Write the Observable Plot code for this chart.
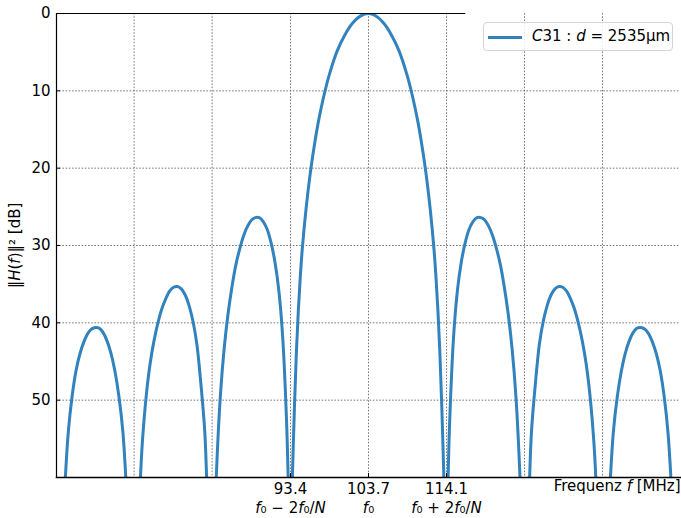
<!DOCTYPE html>
<html><head><meta charset="utf-8">
<script src="https://cdn.jsdelivr.net/npm/d3@7"></script>
<script src="https://cdn.jsdelivr.net/npm/@observablehq/plot@0.6"></script>
<style>
body{margin:0;background:#fff;}
#wrap{position:relative;width:681px;height:518px;font-family:"DejaVu Sans",sans-serif;}
#legend{position:absolute;left:483px;top:22px;width:190px;height:29px;border:1px solid #d4d4d4;border-radius:4px;background:rgba(255,255,255,0.85);box-sizing:border-box;font-size:15px;color:#000;}
#legend .sw{position:absolute;left:4px;top:13px;width:34px;height:3px;}
#legend .tx{position:absolute;left:48px;top:4px;white-space:nowrap;}
</style></head><body><div id="wrap"></div>
<script>
// x-axis: frequency grid (f0 ± k·2f0/N), labelled ticks
const xDomain = [62.3, 145.1];
const gridFreqs = [72.6, 82.95, 93.35, 103.7, 114.05, 124.4, 134.75];
const tickFreqs = [93.35, 103.7, 114.05];
const tickValues = ["93.4", "103.7", "114.1"];
const tickFormulas = ["*f*₀ − 2*f*₀/*N*", "*f*₀", "*f*₀ + 2*f*₀/*N*"];
const topLineEnd = 116.6; // the top border line stops here in the reference
// y-axis (dB, inverted)
const yDomain = [0, 60];
const yTicks = [0, 10, 20, 30, 40, 50];
const yGrid = [10, 20, 30, 40, 50];
const seriesName = "*C*31 : *d* = 2535μm";

// curve samples [f MHz, attenuation dB] (values > 60 lie below the frame)
const lobeL3 = [[63.02,70],[63.34,62.5],[63.85,54.3],[64.37,49.5],[64.89,46.2],[65.41,44.0],[65.92,42.5],[66.44,41.4],[66.96,40.8],[67.475,40.6],[67.99,40.7],[68.51,41.3],[69.03,42.4],[69.545,44.0],[70.06,46.3],[70.58,49.5],[71.10,54],[71.55,61],[71.85,68]];
const lobeL2 = [[73.06,70],[73.37,61.5],[73.69,55.5],[74.20,49.5],[74.72,45.3],[75.24,42.3],[75.76,40.0],[76.27,38.2],[76.79,36.9],[77.31,35.9],[77.83,35.4],[78.34,35.3],[78.86,35.6],[79.38,36.4],[79.90,37.8],[80.41,39.8],[80.93,42.8],[81.45,47.8],[81.97,54],[82.22,60],[82.5,69]];
const lobeL1 = [[83.31,66],[83.52,59.5],[84.04,49.5],[84.55,43.3],[85.07,38.8],[85.59,35.3],[86.10,32.5],[86.62,30.4],[87.14,28.7],[87.66,27.5],[88.18,26.7],[88.69,26.4],[89.21,26.4],[89.73,26.9],[90.25,27.9],[90.76,29.6],[91.28,32.1],[91.80,35.8],[92.31,41.8],[92.83,52.8],[93.04,60],[93.25,70]];
const lobeMain = [[93.4,68],[93.6,60],[93.87,51],[94.13,43.8],[94.39,38.4],[94.64,34.2],[94.90,30.6],[95.42,25.2],[95.94,20.9],[96.46,17.4],[96.97,14.4],[97.49,11.9],[98.01,9.7],[98.53,7.8],[99.56,4.8],[100.6,2.7],[101.63,1.2],[102.66,0.3],[103.7,0],[104.64,0.3],[105.67,1.2],[106.7,2.7],[107.74,4.8],[108.77,7.8],[109.29,9.7],[109.81,11.9],[110.33,14.4],[110.84,17.4],[111.36,20.9],[111.88,25.2],[112.4,30.6],[112.66,34.2],[112.91,38.4],[113.17,43.8],[113.43,51],[113.7,60],[113.9,68]];
const lobeR1 = [[114.05,70],[114.26,60],[114.47,52.8],[114.99,41.8],[115.5,35.8],[116.02,32.1],[116.54,29.6],[117.05,27.9],[117.57,26.9],[118.09,26.4],[118.61,26.4],[119.12,26.7],[119.64,27.5],[120.16,28.7],[120.68,30.4],[121.2,32.5],[121.71,35.3],[122.23,38.8],[122.75,43.3],[123.26,49.5],[123.78,59.5],[123.99,66]];
const lobeR2 = [[124.8,69],[125.08,60],[125.33,54],[125.85,47.8],[126.37,42.8],[126.89,39.8],[127.4,37.8],[127.92,36.4],[128.44,35.6],[128.96,35.3],[129.47,35.4],[129.99,35.9],[130.51,36.9],[131.03,38.2],[131.54,40.0],[132.06,42.3],[132.58,45.3],[133.1,49.5],[133.61,55.5],[133.93,61.5],[134.24,70]];
const lobeR3 = [[135.45,68],[135.75,61],[136.2,54],[136.72,49.5],[137.24,46.3],[137.755,44.0],[138.27,42.4],[138.79,41.3],[139.31,40.7],[139.825,40.6],[140.34,40.8],[140.86,41.4],[141.38,42.5],[141.89,44.0],[142.41,46.2],[142.93,49.5],[143.45,54.3],[143.96,62.5],[144.28,70]];

const lobes = [lobeL3, lobeL2, lobeL1, lobeMain, lobeR1, lobeR2, lobeR3];
const curve = lobes.flatMap((pts, k) => pts.map(([f, db]) => ({f, db, lobe: k})));

const gridStyle = {stroke: "#5a5a5a", strokeOpacity: 1, strokeWidth: 0.8, strokeDasharray: "1.6,1.6"};
const blue = "#3182bd";

const chart = Plot.plot({
  width: 681, height: 518,
  marginLeft: 56, marginRight: 1, marginTop: 13, marginBottom: 41,
  style: {fontFamily: "'DejaVu Sans', sans-serif", fontSize: "15px", color: "#000", background: "#fff"},
  x: {domain: xDomain},
  y: {domain: yDomain, reverse: true},
  marks: [
    Plot.gridX(gridFreqs, gridStyle),
    Plot.gridY(yGrid, gridStyle),
    Plot.line(curve, {x: "f", y: "db", z: "lobe", curve: "catmull-rom", stroke: blue, strokeWidth: 3, clip: true}),
    Plot.frame({anchor: "left", stroke: "#000", strokeWidth: 1.2}),
    Plot.frame({anchor: "bottom", stroke: "#000", strokeWidth: 1.5}),
    Plot.ruleY([yDomain[0]], {x1: xDomain[0], x2: topLineEnd, stroke: "#000", strokeWidth: 1.2}),
    Plot.axisY(yTicks, {tickSize: -4, tickPadding: 10, fontSize: 15, label: null, stroke: "#000"}),
    Plot.axisX(tickFreqs, {tickSize: -4, tickPadding: 10, fontSize: 15, label: null, stroke: "#000",
      tickFormat: d => tickValues[tickFreqs.indexOf(d)]}),
    Plot.axisX(tickFreqs, {tickSize: 0, tickPadding: 25, fontSize: 15, label: null,
      tickFormat: d => tickFormulas[tickFreqs.indexOf(d)]}),
    Plot.text(["‖*H*(*f*)‖² [dB]"], {frameAnchor: "left", rotate: -90, dx: -41, fontSize: 15, textAnchor: "middle"}),
    Plot.text(["Frequenz *f* [MHz]"], {frameAnchor: "bottom-right", textAnchor: "end", lineAnchor: "top", dy: 3, fontSize: 15})
  ]
});

// turn *...* segments into italic tspans
d3.select(chart).selectAll("text").each(function () {
  const t = this.textContent;
  if (!t.includes("*")) return;
  const parts = t.split("*");
  while (this.firstChild) this.removeChild(this.firstChild);
  parts.forEach((p, i) => {
    if (!p) return;
    const ts = document.createElementNS("http://www.w3.org/2000/svg", "tspan");
    ts.textContent = p;
    if (i % 2) ts.setAttribute("font-style", "italic");
    this.appendChild(ts);
  });
});

const wrap = document.getElementById("wrap");
wrap.appendChild(chart);

// legend
const lg = document.createElement("div");
lg.id = "legend";
const sw = document.createElement("div"); sw.className = "sw"; sw.style.background = blue;
const tx = document.createElement("div"); tx.className = "tx";
tx.innerHTML = seriesName.split("*").map((p, i) => i % 2 ? `<i>${p}</i>` : p).join("");
lg.appendChild(sw); lg.appendChild(tx);
wrap.appendChild(lg);
</script></body></html>
